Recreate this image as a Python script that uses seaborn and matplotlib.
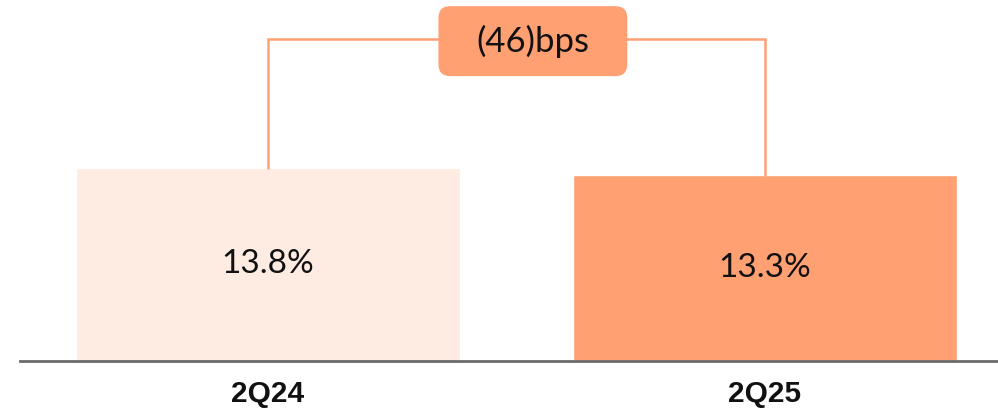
import matplotlib
matplotlib.use('Agg')
import matplotlib.pyplot as plt
from matplotlib.patches import FancyBboxPatch
import seaborn as sns

# chart data
quarters = ['2Q24', '2Q25']
margins = [13.8, 13.3]
value_labels = ['13.8%', '13.3%']
change_label = '(46)bps'

bar_colors = ['#FEEBE2', '#FFA073']
accent = '#FFA073'

sns.set_style('white')
plt.rcParams['font.family'] = ['Lato', 'DejaVu Sans']

fig = plt.figure(figsize=(9.98, 4.11), dpi=100)
ax = fig.add_axes([20 / 998, 50 / 411, 978 / 998, 361 / 411])

sns.barplot(x=quarters, y=margins, hue=quarters, palette=bar_colors,
            width=0.773, legend=False, ax=ax, saturation=1)

ax.set_xlim(-0.499, 1.469)
ax.set_ylim(0, 25.8)

# value labels inside bars
for i, (v, lab) in enumerate(zip(margins, value_labels)):
    ax.text(i, v / 2, lab, ha='center', va='center', fontsize=24,
            color='#111111')

# bracket between the bars
bracket_y = 23.0
ax.plot([0, 0, 1, 1], [margins[0], bracket_y, bracket_y, margins[1]],
        color=accent, lw=1.8, solid_joinstyle='miter', zorder=1)

# rounded label box
box_cx, box_cy, box_w, box_h = 0.533, 22.86, 0.38, 5.0
aspect = (1 / 14) / (1 / 497)
ax.add_patch(FancyBboxPatch((box_cx - box_w / 2, box_cy - box_h / 2), box_w, box_h,
                            boxstyle='round,pad=0,rounding_size=0.024',
                            mutation_aspect=aspect, facecolor=accent,
                            edgecolor='none', zorder=2))
ax.text(box_cx, box_cy, change_label, ha='center', va='center', fontsize=25,
        color='#111111', zorder=3)

# axes styling
for side in ['top', 'left', 'right']:
    ax.spines[side].set_visible(False)
ax.spines['bottom'].set_color('#6b6b6b')
ax.spines['bottom'].set_linewidth(2)
ax.set_yticks([])
ax.set_xlabel('')
ax.set_ylabel('')
ax.tick_params(axis='x', length=0, pad=14)
for t in ax.get_xticklabels():
    t.set_fontfamily(['Liberation Sans', 'DejaVu Sans'])
    t.set_fontweight('bold')
    t.set_fontsize(21.5)
    t.set_color('#111111')

fig.savefig('out.png', dpi=100)
